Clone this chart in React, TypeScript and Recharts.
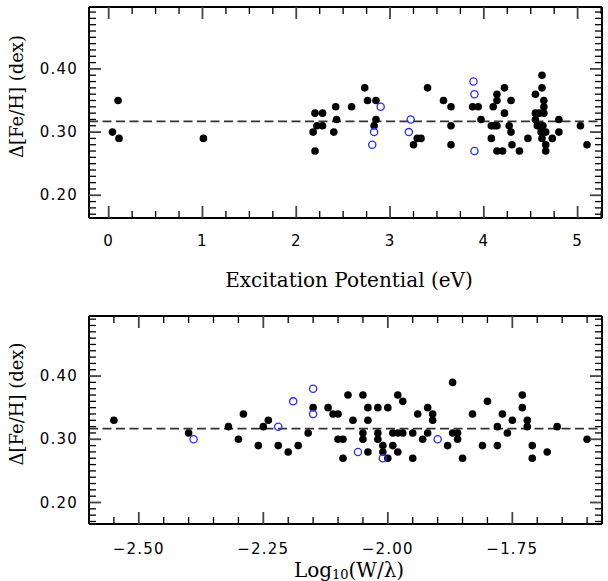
import { ScatterChart, Scatter, XAxis, YAxis, ReferenceLine } from 'recharts';

const NUM_FONT = '"DejaVu Sans", sans-serif';
const TITLE_FONT = '"DejaVu Serif", serif';

// mean offset drawn as the dashed line
const MEAN_OFFSET = 0.317;

// [excitation potential (eV), delta Fe/H] — filled = Fe I, open = Fe II
const epFilled: [number, number][] = [
  [0.04, 0.30], [0.10, 0.35], [0.11, 0.29], [1.01, 0.29],
  [2.18, 0.30], [2.20, 0.33], [2.20, 0.27], [2.22, 0.31], [2.28, 0.33], [2.28, 0.31],
  [2.40, 0.30], [2.42, 0.34], [2.43, 0.32], [2.59, 0.34],
  [2.73, 0.37], [2.76, 0.35], [2.85, 0.35], [2.85, 0.32], [2.83, 0.31],
  [3.25, 0.28], [3.29, 0.29], [3.33, 0.29], [3.40, 0.37], [3.57, 0.35],
  [3.65, 0.34], [3.65, 0.31], [3.65, 0.28],
  [3.88, 0.34], [3.94, 0.34], [3.97, 0.32],
  [4.08, 0.31], [4.11, 0.31], [4.14, 0.31], [4.08, 0.29], [4.10, 0.34], [4.14, 0.36],
  [4.14, 0.35], [4.14, 0.27], [4.20, 0.27], [4.22, 0.37], [4.22, 0.33], [4.27, 0.31],
  [4.29, 0.35], [4.29, 0.30], [4.30, 0.28], [4.38, 0.27], [4.47, 0.29],
  [4.55, 0.36], [4.62, 0.39], [4.62, 0.37], [4.64, 0.35], [4.64, 0.34], [4.55, 0.33],
  [4.59, 0.33], [4.64, 0.33], [4.55, 0.32], [4.57, 0.31], [4.59, 0.31], [4.63, 0.31],
  [4.61, 0.30], [4.66, 0.30], [4.62, 0.29], [4.66, 0.28], [4.66, 0.27], [4.73, 0.29],
  [4.80, 0.32], [4.80, 0.30], [5.03, 0.31], [5.10, 0.28],
];
const epOpen: [number, number][] = [
  [2.90, 0.34], [2.83, 0.30], [2.81, 0.28], [3.22, 0.32], [3.20, 0.30],
  [3.89, 0.38], [3.90, 0.36], [3.90, 0.27],
];

// [log10(W/lambda), delta Fe/H]
const ewFilled: [number, number][] = [
  [-2.55, 0.33], [-2.40, 0.31], [-2.32, 0.32], [-2.30, 0.30], [-2.29, 0.34], [-2.26, 0.29],
  [-2.25, 0.32], [-2.24, 0.33], [-2.22, 0.29], [-2.20, 0.28], [-2.18, 0.29], [-2.16, 0.31],
  [-2.15, 0.35], [-2.12, 0.35], [-2.11, 0.34], [-2.10, 0.34], [-2.10, 0.30], [-2.09, 0.30],
  [-2.09, 0.27], [-2.08, 0.37], [-2.07, 0.33], [-2.05, 0.37], [-2.05, 0.31], [-2.05, 0.30],
  [-2.04, 0.35], [-2.04, 0.33], [-2.04, 0.28], [-2.02, 0.35], [-2.02, 0.31], [-2.02, 0.30],
  [-2.01, 0.29], [-2.01, 0.28], [-2.00, 0.27], [-2.00, 0.35], [-1.99, 0.31], [-1.99, 0.29],
  [-1.98, 0.37], [-1.98, 0.31], [-1.98, 0.28], [-1.97, 0.36], [-1.97, 0.31], [-1.95, 0.31],
  [-1.95, 0.27], [-1.94, 0.34], [-1.93, 0.30], [-1.92, 0.35], [-1.92, 0.31], [-1.91, 0.34],
  [-1.91, 0.33], [-1.88, 0.29], [-1.87, 0.39], [-1.87, 0.31], [-1.86, 0.31], [-1.86, 0.30],
  [-1.85, 0.27], [-1.83, 0.34], [-1.81, 0.29], [-1.80, 0.36], [-1.78, 0.32], [-1.78, 0.29],
  [-1.77, 0.34], [-1.76, 0.31], [-1.75, 0.33], [-1.73, 0.37], [-1.73, 0.35], [-1.72, 0.33],
  [-1.72, 0.32], [-1.71, 0.29], [-1.71, 0.27], [-1.68, 0.28], [-1.66, 0.32], [-1.60, 0.30],
];
const ewOpen: [number, number][] = [
  [-2.39, 0.30], [-2.22, 0.32], [-2.19, 0.36], [-2.15, 0.38], [-2.15, 0.34],
  [-2.06, 0.28], [-2.01, 0.27], [-1.90, 0.30],
];

// axis ticks: labelled majors, unlabelled minors in between
const epMajor = [0, 1, 2, 3, 4, 5];
const ewMajor = [-2.5, -2.25, -2.0, -1.75];
const dexMajor = [0.2, 0.3, 0.4];

function steps(from: number, to: number, step: number): number[] {
  const n = Math.round((to - from) / step);
  return Array.from({ length: n + 1 }, (_, i) => +(from + i * step).toFixed(4));
}

const epTicks = steps(0, 5.25, 0.25);
const ewTicks = steps(-2.55, -1.6, 0.05);
const dexTicks = steps(0.17, 0.49, 0.01);

const toPoints = (rows: [number, number][]) => rows.map(([x, y]) => ({ x, y }));

const FRAME = { stroke: '#000', strokeWidth: 2 };

function FilledDot(p: any) {
  return <circle cx={p.cx} cy={p.cy} r={3.8} fill="#000" />;
}

function OpenDot(p: any) {
  return <circle cx={p.cx} cy={p.cy} r={3.6} fill="none" stroke="#2b2bff" strokeWidth={1.3} />;
}

function NoDot() {
  return <g />;
}

type Side = 'bottom' | 'top' | 'left' | 'right';

function makeTick(side: Side, majors: number[], fmt?: (v: number) => string, gap = 23) {
  return (props: any) => {
    const { x, y, payload } = props;
    const v = payload.value as number;
    const major = majors.some((m) => Math.abs(m - v) < 1e-6);
    const len = major ? 12 : 7;
    let x2 = x;
    let y2 = y;
    if (side === 'bottom') y2 = y - len;
    if (side === 'top') y2 = y + len;
    if (side === 'left') x2 = x + len;
    if (side === 'right') x2 = x - len;
    return (
      <g>
        <line x1={x} y1={y} x2={x2} y2={y2}
          stroke={major ? '#444' : '#000'} strokeWidth={major ? 1.8 : 1.3} />
        {major && fmt && side === 'bottom' && (
          <text x={x} y={y + gap} textAnchor="middle" dominantBaseline="central"
            fontFamily={NUM_FONT} fontSize={15} letterSpacing={1.2} fill="#000">
            {fmt(v)}
          </text>
        )}
        {major && fmt && side === 'left' && (
          <text x={x - 11} y={y} textAnchor="end" dominantBaseline="central"
            fontFamily={NUM_FONT} fontSize={15} letterSpacing={1.2} fill="#000">
            {fmt(v)}
          </text>
        )}
      </g>
    );
  };
}

const fmtEp = (v: number) => String(v);
const fmtEw = (v: number) => v.toFixed(2).replace('-', '\u2212');
const fmtDex = (v: number) => v.toFixed(2);

function YTitle({ viewBox }: any) {
  const cx = 16;
  const cy = viewBox.y + viewBox.height / 2 - 16;
  return (
    <text x={cx} y={cy} transform={`rotate(-90 ${cx} ${cy})`} textAnchor="middle"
      dominantBaseline="central" fontFamily={TITLE_FONT} fontSize={18} fill="#000">
      Δ[Fe/H] (dex)
    </text>
  );
}

interface PanelProps {
  height: number;
  top: number;
  bottom: number;
  xDomain: [number, number];
  yDomain: [number, number];
  xTicks: number[];
  xMajor: number[];
  fmtX: (v: number) => string;
  labelGap: number;
  titleGap: number;
  title: React.ReactNode;
  filled: [number, number][];
  open: [number, number][];
}

function Panel(p: PanelProps) {
  const xTitle = ({ viewBox }: any) => (
    <text x={349} y={viewBox.y + p.titleGap} textAnchor="middle" dominantBaseline="central"
      fontFamily={TITLE_FONT} fontSize={20} fill="#000">
      {p.title}
    </text>
  );
  return (
    <ScatterChart width={608} height={p.height} margin={{ top: p.top - 1, right: 5, bottom: 0, left: 0 }}>
      <XAxis type="number" dataKey="x" domain={p.xDomain} ticks={p.xTicks} interval={0}
        allowDataOverflow height={p.bottom} tickSize={0} tickMargin={0} axisLine={FRAME}
        tickLine={false} tick={makeTick('bottom', p.xMajor, p.fmtX, p.labelGap)}
        label={{ content: xTitle }} />
      <XAxis xAxisId="top" orientation="top" type="number" dataKey="x" domain={p.xDomain}
        ticks={p.xTicks} interval={0} allowDataOverflow height={1} tickSize={0} tickMargin={0}
        axisLine={FRAME} tickLine={false} tick={makeTick('top', p.xMajor)} />
      <YAxis type="number" dataKey="y" domain={p.yDomain} ticks={dexTicks} interval={0}
        allowDataOverflow width={89} tickSize={0} tickMargin={0} axisLine={FRAME}
        tickLine={false} tick={makeTick('left', dexMajor, fmtDex)}
        label={{ content: YTitle }} />
      <YAxis yAxisId="right" orientation="right" type="number" dataKey="y" domain={p.yDomain}
        ticks={dexTicks} interval={0} allowDataOverflow width={1} tickSize={0} tickMargin={0}
        axisLine={FRAME} tickLine={false} tick={makeTick('right', dexMajor)} />
      <ReferenceLine y={MEAN_OFFSET} stroke="#333" strokeWidth={1.8} strokeDasharray="9 4.5" />
      {/* invisible copy so the mirrored top/right axes have a series */}
      <Scatter data={toPoints(p.filled)} xAxisId="top" yAxisId="right" shape={NoDot} isAnimationActive={false} />
      <Scatter data={toPoints(p.filled)} shape={FilledDot} isAnimationActive={false} />
      <Scatter data={toPoints(p.open)} shape={OpenDot} isAnimationActive={false} />
    </ScatterChart>
  );
}

export default function App() {
  return (
    <div style={{ position: 'absolute', left: 0, top: 0, width: 608, height: 581, background: '#fff' }}>
      <Panel
        height={300} top={7} bottom={82}
        xDomain={[-0.21, 5.26]} yDomain={[0.164, 0.498]}
        xTicks={epTicks} xMajor={epMajor} fmtX={fmtEp}
        labelGap={23} titleGap={62}
        title="Excitation Potential (eV)"
        filled={epFilled} open={epOpen}
      />
      <Panel
        height={281} top={16} bottom={57}
        xDomain={[-2.6, -1.57]} yDomain={[0.166, 0.495]}
        xTicks={ewTicks} xMajor={ewMajor} fmtX={fmtEw}
        labelGap={25} titleGap={46}
        title={<>Log<tspan fontSize={13} dy={4}>10</tspan><tspan dy={-4}>(W/λ)</tspan></>}
        filled={ewFilled} open={ewOpen}
      />
    </div>
  );
}
